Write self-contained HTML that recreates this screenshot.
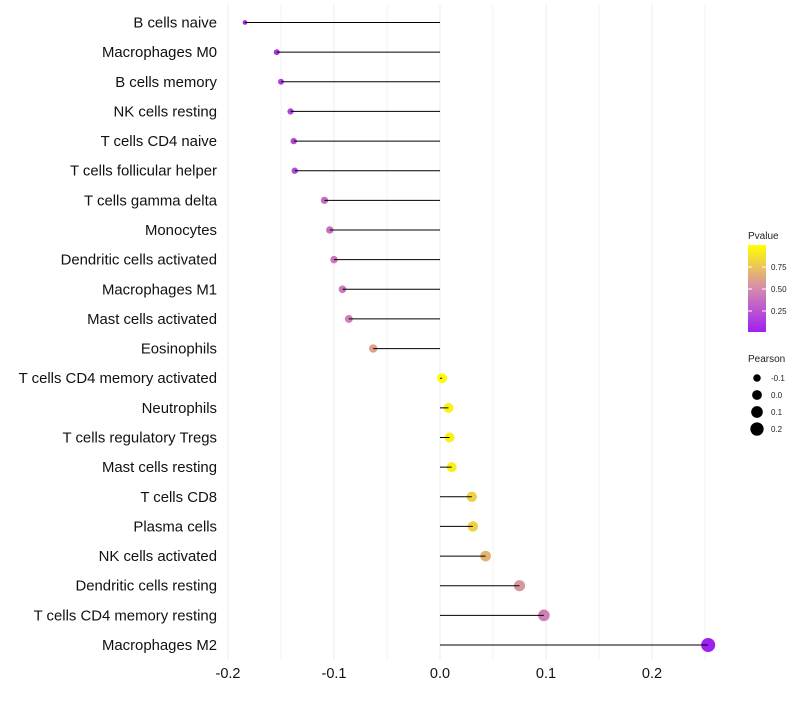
<!DOCTYPE html>
<html><head><meta charset="utf-8"><style>
body{margin:0;background:#fff;font-family:"Liberation Sans",sans-serif}
</style></head><body>
<svg id="c" width="800" height="700" xmlns="http://www.w3.org/2000/svg">
<defs><linearGradient id="g" x1="0" y1="1" x2="0" y2="0">
<stop offset="0" stop-color="#A020F0"/><stop offset="0.5" stop-color="#D48AB0"/><stop offset="1" stop-color="#FFFF00"/></linearGradient></defs>
</svg>
<script>
const categories=["B cells naive","Macrophages M0","B cells memory","NK cells resting","T cells CD4 naive","T cells follicular helper","T cells gamma delta","Monocytes","Dendritic cells activated","Macrophages M1","Mast cells activated","Eosinophils","T cells CD4 memory activated","Neutrophils","T cells regulatory  Tregs ","Mast cells resting","T cells CD8","Plasma cells","NK cells activated","Dendritic cells resting","T cells CD4 memory resting","Macrophages M2"];
const pearson=[-0.184,-0.154,-0.150,-0.141,-0.138,-0.137,-0.109,-0.104,-0.100,-0.092,-0.086,-0.063,0.002,0.008,0.009,0.011,0.030,0.031,0.043,0.075,0.098,0.253];
const pvalues=[0.02,0.1,0.15,0.18,0.2,0.2,0.35,0.38,0.4,0.42,0.45,0.6,0.98,0.95,0.94,0.93,0.8,0.8,0.68,0.55,0.45,0.001];
const xTicks=[-0.2,-0.1,0.0,0.1,0.2];
const xTickLabels=["-0.2","-0.1","0.0","0.1","0.2"];
const legendColorTicks=[0.25,0.5,0.75];
const legendSizes=[-0.1,0.0,0.1,0.2];
const svg=document.getElementById('c');const NS="http://www.w3.org/2000/svg";
const X=v=>440+v*1060;
const Y=i=>22.5+i*(622.5/21);
const R=v=>Math.sqrt(Math.max(3,24+100*v));
function col(p){const a=[160,32,240],m=[212,138,176],b=[255,255,0];let s,e,t;if(p<0.5){s=a;e=m;t=p/0.5}else{s=m;e=b;t=(p-0.5)/0.5}return `rgb(${s.map((c,k)=>Math.round(c+(e[k]-c)*t)).join(',')})`;}
function el(t,at,txt){const e=document.createElementNS(NS,t);for(const k in at)e.setAttribute(k,at[k]);if(txt!=null)e.textContent=txt;svg.appendChild(e);return e;}
for(let v=-0.2;v<=0.251;v+=0.05){const g=el('line',{x1:X(v),x2:X(v),y1:5,y2:660,stroke:'#ebebeb','stroke-width':Math.abs(Math.round(v*100)%10)<0.5?1:0.6});

}
xTicks.forEach((v,i)=>{const t=el('text',{x:X(v),y:678,'font-size':14.5,'text-anchor':'middle',fill:'#111'},xTickLabels[i]);

});
categories.forEach((c,i)=>{const y=Y(i);
const t=el('text',{x:217,y:y+5,'font-size':14.9,'text-anchor':'end',fill:'#111','xml:space':'preserve'},c);


const p=el('circle',{cx:X(pearson[i]),cy:y,r:R(pearson[i]),fill:col(pvalues[i])});


const l=el('line',{x1:X(0),x2:X(pearson[i]),y1:y,y2:y,stroke:'#000','stroke-width':1});

});
let lt=el('text',{x:748,y:239,'font-size':10,fill:'#222'},'Pvalue');


let cb=el('rect',{x:748,y:245,width:18,height:87,fill:'url(#g)'});


legendColorTicks.forEach(v=>{const y=333-v*88;
const tk=el('text',{x:771,y:y+3,'font-size':8,fill:'#222'},v.toFixed(2));


el('line',{x1:748,x2:752,y1:y,y2:y,stroke:'#fff'});el('line',{x1:762,x2:766,y1:y,y2:y,stroke:'#fff'});});
lt=el('text',{x:748,y:362,'font-size':10,fill:'#222'},'Pearson');


legendSizes.forEach((v,i)=>{const y=378+i*17;
const c=el('circle',{cx:757,cy:y,r:R(v),fill:'#000'});


const tx=el('text',{x:771,y:y+3,'font-size':8,fill:'#222'},v.toFixed(1));

});
</script>
</body></html>
